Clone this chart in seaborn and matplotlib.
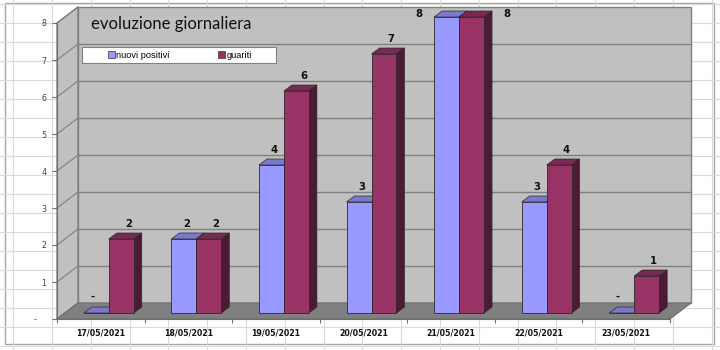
import numpy as np
import pandas as pd
import seaborn as sns
import matplotlib
matplotlib.use("Agg")
import matplotlib.pyplot as plt
import matplotlib.colors as mcolors
import matplotlib.transforms as mtrans
from matplotlib.patches import Polygon, Rectangle

# ---------------- data ----------------
dates = ["17/05/2021", "18/05/2021", "19/05/2021", "20/05/2021",
         "21/05/2021", "22/05/2021", "23/05/2021"]
nuovi_positivi = [0, 2, 4, 3, 8, 3, 0]
guariti = [2, 2, 6, 7, 8, 4, 1]
series_names = ["nuovi positivi", "guariti"]
y_ticks = [0, 1, 2, 3, 4, 5, 6, 7, 8]
y_tick_labels = ["-    ", "1", "2", "3", "4", "5", "6", "7", "8"]
title = "evoluzione giornaliera"

palette = ["#9999FF", "#993366"]

df = pd.DataFrame({
    "data": dates * 2,
    "serie": [series_names[0]] * len(dates) + [series_names[1]] * len(dates),
    "valore": nuovi_positivi + guariti,
})

# ---------------- figure ----------------
W, H = 720, 350
fig = plt.figure(figsize=(7.2, 3.5), dpi=100)

# spreadsheet background + chart area
bg = fig.add_axes([0, 0, 1, 1], zorder=-1)
bg.set_xlim(0, W)
bg.set_ylim(H, 0)
bg.axis("off")
for x in np.arange(13.2, W, 38.8):
    bg.plot([x, x], [0, H], color="#DADADA", lw=0.8)
for y in np.arange(4, H, 19):
    bg.plot([0, W], [y, y], color="#DADADA", lw=0.8)
bg.add_patch(Rectangle((5, 3), 709, 341, facecolor="white",
                       edgecolor="#A6A6A6", lw=1))

# main plotting axes: front plane
x0px, x1px, y0px, y1px = 57, 670, 319, 23
ax = fig.add_axes([x0px / W, 1 - y0px / H, (x1px - x0px) / W, (y0px - y1px) / H])
ax.patch.set_alpha(0)

sns.barplot(data=df, x="data", y="valore", hue="serie", order=dates,
            hue_order=series_names, palette=palette, width=0.57,
            dodge=True, saturation=1, edgecolor="#2A2A2A", linewidth=0.6,
            legend=False, ax=ax, zorder=3)

xmin, xmax, ymin, ymax = -0.5, len(dates) - 0.5, 0, 8
ax.set_xlim(xmin, xmax)
ax.set_ylim(ymin, ymax)

ux = (xmax - xmin) / (x1px - x0px)
uy = (ymax - ymin) / (y0px - y1px)
wdx, wdy = 21 * ux, 16 * uy      # wall depth
bdx, bdy = 8 * ux, 6 * uy        # bar offset / bar depth

# walls and floor
ax.add_patch(Rectangle((xmin + wdx, ymin + wdy), xmax - xmin, ymax - ymin,
                       facecolor="#C0C0C0", edgecolor="#808080", lw=1,
                       zorder=0, clip_on=False))
ax.add_patch(Polygon([(xmin, ymin), (xmin, ymax), (xmin + wdx, ymax + wdy),
                      (xmin + wdx, ymin + wdy)], closed=True,
                     facecolor="#C0C0C0", edgecolor="#808080", lw=1,
                     zorder=0.5, clip_on=False))
for v in y_ticks[1:-1]:
    ax.plot([xmin + wdx, xmax + wdx], [v + wdy, v + wdy], color="#808080",
            lw=1, zorder=0.6, clip_on=False)
for v in y_ticks:
    ax.plot([xmin, xmin + wdx], [v, v + wdy], color="#808080", lw=0.8,
            zorder=0.7, clip_on=False)
ax.add_patch(Polygon([(xmin, ymin), (xmax, ymin), (xmax + wdx, ymin + wdy),
                      (xmin + wdx, ymin + wdy)], closed=True,
                     facecolor="#808080", edgecolor="#6E6E6E", lw=0.8,
                     zorder=1, clip_on=False))

# 3D bars
bars = [p for p in ax.patches if isinstance(p, Rectangle) and p.get_zorder() == 3]
bars.sort(key=lambda p: p.get_x())
shift = mtrans.offset_copy(ax.transData, fig=fig, x=8, y=6, units="dots")
label_dx = [3, 7]
for i, p in enumerate(bars):
    bx, w, h = p.get_x(), p.get_width(), p.get_height()
    fc = np.array(mcolors.to_rgb(p.get_facecolor()))
    s = int(np.argmin([np.sum((fc - np.array(mcolors.to_rgb(c))) ** 2)
                       for c in palette]))
    z = 3 + i * 0.01
    p.set_transform(shift)
    p.set_zorder(z + 0.005)
    p.set_clip_on(False)
    top = Polygon([(bx + bdx, h + bdy), (bx + w + bdx, h + bdy),
                   (bx + w + 2 * bdx, h + 2 * bdy), (bx + 2 * bdx, h + 2 * bdy)],
                  closed=True, facecolor=fc * 0.8, edgecolor="#2A2A2A",
                  lw=0.5, zorder=z, clip_on=False)
    ax.add_patch(top)
    if h > 0:
        side = Polygon([(bx + w + bdx, bdy), (bx + w + bdx, h + bdy),
                        (bx + w + 2 * bdx, h + 2 * bdy), (bx + w + 2 * bdx, 2 * bdy)],
                       closed=True, facecolor=fc * 0.5, edgecolor="#2A2A2A",
                       lw=0.5, zorder=z, clip_on=False)
        ax.add_patch(side)
    # value labels
    txt = "-" if h == 0 else f"{int(round(h))}"
    if h >= ymax:
        if s == 0:
            xy, off = (bx, h), (8 - 15, 6 + 3)
        else:
            xy, off = (bx + w, h), (8 + 23, 6 + 3)
    elif h == 0:
        xy, off = (bx + w / 2, h), (8 - 4, 6 + 16)
    else:
        xy, off = (bx + w / 2, h), (8 + label_dx[s], 6 + 15)
    ax.annotate(txt, xy=xy, xytext=off, textcoords="offset pixels",
                ha="center", va="center", fontsize=7.3, fontweight="bold",
                color="#111111", zorder=10, annotation_clip=False)

# axes styling
for sp in ["top", "right"]:
    ax.spines[sp].set_visible(False)
ax.spines["left"].set_color("#707070")
ax.spines["bottom"].set_color("#6E6E6E")
ax.spines["left"].set_zorder(2)
ax.spines["bottom"].set_zorder(2)
ax.set_yticks(y_ticks)
ax.set_yticklabels(y_tick_labels)
ax.tick_params(axis="y", length=3.6, width=0.8, color="#707070", pad=4,
               labelsize=5.7, labelcolor="#404040")
ax.set_xticks(range(len(dates)))
ax.set_xticklabels(dates, fontsize=5.7, fontweight="bold", color="#111111")
ax.set_xticks(np.arange(xmin, xmax + 0.01, 1), minor=True)
ax.tick_params(axis="x", which="major", length=0, pad=6.5)
ax.tick_params(axis="x", which="minor", length=3, width=0.8, color="#707070")
ax.set_xlabel("")
ax.set_ylabel("")

# overlay: title + legend
ov = fig.add_axes([0, 0, 1, 1], zorder=5)
ov.set_xlim(0, W)
ov.set_ylim(H, 0)
ov.axis("off")
ov.text(91, 24, title, fontsize=12, family=["Lato", "DejaVu Sans"],
        ha="left", va="center", color="#111111")
ov.add_patch(Rectangle((82, 47), 194, 16, facecolor="white",
                       edgecolor="#808080", lw=0.8))
handles = [Rectangle((0, 0), 1, 1, facecolor=c, edgecolor="#333333", lw=0.5)
           for c in palette]
leg = ov.legend(handles, series_names, ncol=2, loc="center",
                bbox_to_anchor=(180, 55), bbox_transform=ov.transData,
                frameon=False, handlelength=0.7, handleheight=0.7,
                handletextpad=0.2, columnspacing=5.2, borderpad=0,
                prop={"family": ["Liberation Sans", "DejaVu Sans"], "size": 6.7})

fig.savefig("out.png", dpi=100)
